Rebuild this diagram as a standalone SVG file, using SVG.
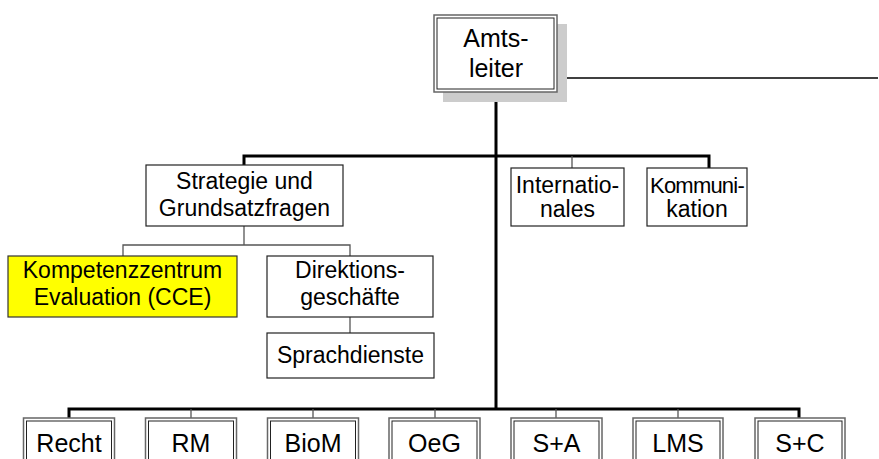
<svg xmlns="http://www.w3.org/2000/svg" width="879" height="459" viewBox="0 0 879 459">
<style>
  text { font-family: "Liberation Sans", Arial, sans-serif; fill: #000; text-anchor: middle; }
  .t { font-size: 23px; }
  .tk { font-size: 22px; letter-spacing: -0.8px; }
  .tb { font-size: 25px; }
  .box { fill: #fff; stroke: #222; stroke-width: 1.2; }
  .cce { fill: #ffff00; stroke: #333; stroke-width: 1.2; }
  .outer { fill: #fff; stroke: #666; stroke-width: 1.5; }
  .inner { fill: none; stroke: #222; stroke-width: 1; }
  .thick { stroke: #000; stroke-width: 3; fill: none; }
  .thin { stroke: #555; stroke-width: 1.3; fill: none; }
  .mid { stroke: #000; stroke-width: 1.5; fill: none; }
</style>
<g id="connectors">
  <line class="mid" x1="557" y1="78" x2="878" y2="78"/>
  <line class="thick" x1="496" y1="92" x2="496" y2="409"/>
  <polyline class="thick" points="244,165 244,156 709,156 709,168"/>
  <line class="thin" x1="572" y1="156" x2="572" y2="168"/>
  <line class="thin" x1="244" y1="226" x2="244" y2="245"/>
  <polyline class="thin" points="123,256 123,245 350,245 350,256"/>
  <line class="thin" x1="350" y1="317" x2="350" y2="333"/>
  <polyline class="thick" points="69,418 69,409 799,409 799,418"/>
  <line class="thin" x1="191" y1="409" x2="191" y2="418"/>
  <line class="thin" x1="313" y1="409" x2="313" y2="418"/>
  <line class="thin" x1="435" y1="409" x2="435" y2="418"/>
  <line class="thin" x1="556" y1="409" x2="556" y2="418"/>
  <line class="thin" x1="678" y1="409" x2="678" y2="418"/>
</g>
<g id="amtsleiter">
  <rect x="443" y="24" width="124" height="78" fill="#cccccc"/>
  <rect class="outer" x="434" y="15" width="123" height="77"/>
  <rect class="inner" x="437" y="18" width="117" height="71"/>
  <text class="tb" x="496" y="47">Amts-</text>
  <text class="tb" x="496" y="77">leiter</text>
</g>
<g id="strategie">
  <rect class="box" x="146" y="165" width="197" height="61"/>
  <text class="t" x="244.5" y="189">Strategie und</text>
  <text class="t" x="244.5" y="216">Grundsatzfragen</text>
</g>
<g id="internationales">
  <rect class="box" x="511" y="168" width="113" height="58"/>
  <text class="t" x="567.5" y="193">Internatio-</text>
  <text class="t" x="567.5" y="217">nales</text>
</g>
<g id="kommunikation">
  <rect class="box" x="647" y="168" width="100" height="58"/>
  <text class="tk" x="697" y="193">Kommuni-</text>
  <text class="t" x="697" y="217">kation</text>
</g>
<g id="cce">
  <rect class="cce" x="8" y="256" width="229" height="61"/>
  <text class="t" x="122.5" y="278">Kompetenzzentrum</text>
  <text class="t" x="122.5" y="305">Evaluation (CCE)</text>
</g>
<g id="direktion">
  <rect class="box" x="267" y="256" width="166" height="61"/>
  <text class="t" x="350" y="278">Direktions-</text>
  <text class="t" x="350" y="305">geschäfte</text>
</g>
<g id="sprachdienste">
  <rect class="box" x="267" y="333" width="167" height="45"/>
  <text class="t" x="350.5" y="363">Sprachdienste</text>
</g>
<g id="recht">
  <rect class="outer" x="23.5" y="418" width="91" height="60"/>
  <rect class="inner" x="26.5" y="421" width="85" height="54"/>
  <text class="tb" x="69" y="452">Recht</text>
</g>
<g id="rm">
  <rect class="outer" x="145.5" y="418" width="91" height="60"/>
  <rect class="inner" x="148.5" y="421" width="85" height="54"/>
  <text class="tb" x="191" y="452">RM</text>
</g>
<g id="biom">
  <rect class="outer" x="267.5" y="418" width="91" height="60"/>
  <rect class="inner" x="270.5" y="421" width="85" height="54"/>
  <text class="tb" x="313" y="452">BioM</text>
</g>
<g id="oeg">
  <rect class="outer" x="389" y="418" width="91" height="60"/>
  <rect class="inner" x="392" y="421" width="85" height="54"/>
  <text class="tb" x="434.5" y="452">OeG</text>
</g>
<g id="sa">
  <rect class="outer" x="511" y="418" width="91" height="60"/>
  <rect class="inner" x="514" y="421" width="85" height="54"/>
  <text class="tb" x="556.5" y="452">S+A</text>
</g>
<g id="lms">
  <rect class="outer" x="633" y="418" width="90" height="60"/>
  <rect class="inner" x="636" y="421" width="84" height="54"/>
  <text class="tb" x="678" y="452">LMS</text>
</g>
<g id="sc">
  <rect class="outer" x="755" y="418" width="90" height="60"/>
  <rect class="inner" x="758" y="421" width="84" height="54"/>
  <text class="tb" x="800" y="452">S+C</text>
</g>
</svg>
